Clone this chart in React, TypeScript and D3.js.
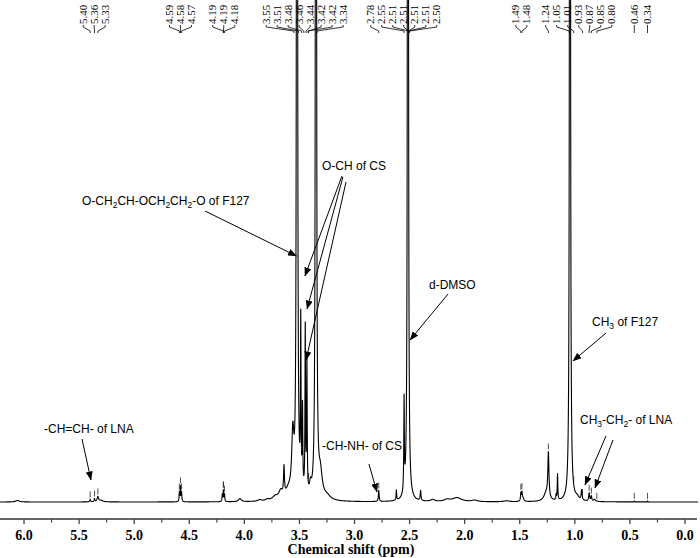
import React, { useMemo } from "react";
import * as d3 from "d3";

// ---- Spectrum peak list: shift (ppm), intensity (arb.), half width (ppm)
const peakPpm = [6.06, 5.4, 5.36, 5.33, 5.3, 4.59, 4.58, 4.57, 4.2, 4.19, 4.18, 4.04, 3.86, 3.79, 3.72, 3.67, 3.64, 3.6, 3.56, 3.522, 3.488, 3.472, 3.447, 3.432, 3.4, 3.35, 3.31, 3.25, 2.78, 2.62, 2.55, 2.515, 2.4, 2.29, 2.16, 2.07, 1.91, 1.62, 1.49, 1.48, 1.47, 1.26, 1.24, 1.17, 1.157, 1.044, 0.98, 0.938, 0.87, 0.85, 0.82, 0.46, 0.34];
const peakHeight = [1.5, 2.5, 3, 5, 1.5, 9, 15, 9, 7, 11, 7, 3, 1.5, 1.5, 4, 8, 28, 8, 60, 4000, 165, 80, 165, 130, 10, 4000, 24, 4, 11, 10, 92, 4000, 10, 2, 2, 4, 1.5, 1, 8, 8, 3, 8, 45, 5, 26, 4000, 3, 10, 8, 5, 2, 1, 1];
const peakWidth = [0.02, 0.004, 0.004, 0.008, 0.02, 0.003, 0.003, 0.003, 0.003, 0.003, 0.003, 0.015, 0.02, 0.02, 0.03, 0.02, 0.005, 0.03, 0.012, 0.0024, 0.003, 0.003, 0.003, 0.003, 0.01, 0.0024, 0.02, 0.04, 0.004, 0.003, 0.003, 0.0022, 0.004, 0.02, 0.03, 0.05, 0.03, 0.03, 0.004, 0.004, 0.01, 0.025, 0.006, 0.003, 0.003, 0.0022, 0.02, 0.005, 0.005, 0.005, 0.01, 0.001, 0.001];

// ---- Picked peak labels (ppm)
const labelPpm = [5.40, 5.36, 5.33, 4.59, 4.58, 4.57, 4.19, 4.19, 4.18, 3.55, 3.51, 3.48, 3.46, 3.44, 3.42, 3.42, 3.34, 2.78, 2.55, 2.51, 2.51, 2.51, 2.51, 2.50, 1.49, 1.48, 1.24, 1.05, 1.01, 0.93, 0.87, 0.85, 0.80, 0.46, 0.34];

// ---- Axis ticks
const xTickValues = [6.0, 5.5, 5.0, 4.5, 4.0, 3.5, 3.0, 2.5, 2.0, 1.5, 1.0, 0.5, 0.0];
const xTickLabels = ["6.0", "5.5", "5.0", "4.5", "4.0", "3.5", "3.0", "2.5", "2.0", "1.5", "1.0", "0.5", "0.0"];
const xMinorTickValues = [5.75, 5.25, 4.75, 4.25, 3.75, 3.25, 2.75, 2.25, 1.75, 1.25, 0.75, 0.25];
const xAxisTitle = "Chemical shift (ppm)";

// ---- Assignment annotations: text parts [text, subscript], text anchor and arrows in (ppm, intensity)
type Part = [string, boolean];
const annotations: { parts: Part[]; at: [number, number]; arrows: [[number, number], [number, number]][] }[] = [
  {
    parts: [["O-CH", false], ["2", true], ["CH-OCH", false], ["2", true], ["CH", false], ["2", true], ["-O of F127", false]],
    at: [5.474, 297],
    arrows: [[[4.357, 291], [3.527, 246]]],
  },
  {
    parts: [["O-CH of CS", false]],
    at: [3.295, 332],
    arrows: [
      [[3.114, 326], [3.45, 226]],
      [[3.105, 325], [3.431, 193]],
      [[3.077, 320], [3.44, 142]],
    ],
  },
  { parts: [["d-DMSO", false]], at: [2.324, 213], arrows: [[[2.151, 208], [2.496, 162]]] },
  { parts: [["CH", false], ["3", true], [" of F127", false]], at: [0.844, 176], arrows: [[[0.717, 169], [1.017, 141]]] },
  { parts: [["-CH=CH- of LNA", false]], at: [5.819, 69], arrows: [[[5.474, 63], [5.392, 22]]] },
  { parts: [["-CH-NH- of CS", false]], at: [3.295, 52], arrows: [[[2.869, 38], [2.796, 10]]] },
  {
    parts: [["CH", false], ["3", true], ["-CH", false], ["2", true], ["- of LNA", false]],
    at: [0.953, 78],
    arrows: [
      [[0.717, 66], [0.908, 17]],
      [[0.654, 62], [0.817, 14]],
    ],
  },
];

const SERIF = "'Liberation Serif', 'Times New Roman', serif";
const SANS = "'Liberation Sans', Arial, sans-serif";

function spectrumAt(p: number): number {
  let s = 0;
  for (let k = 0; k < peakPpm.length; k++) {
    const d = (p - peakPpm[k]) / peakWidth[k];
    s += peakHeight[k] / (1 + d * d);
  }
  return s;
}

function spreadLabels(ideal: number[], gap: number): number[] {
  const clusters: { n: number; sum: number }[] = [];
  const left = (c: { n: number; sum: number }) => c.sum / c.n - ((c.n - 1) * gap) / 2;
  ideal.forEach((v) => {
    clusters.push({ n: 1, sum: v });
    while (clusters.length > 1) {
      const b = clusters[clusters.length - 1];
      const a = clusters[clusters.length - 2];
      if (left(a) + a.n * gap > left(b)) {
        a.n += b.n;
        a.sum += b.sum;
        clusters.pop();
      } else break;
    }
  });
  const out: number[] = [];
  clusters.forEach((c) => {
    const l = left(c);
    for (let k = 0; k < c.n; k++) out.push(l + k * gap);
  });
  return out;
}

export default function App() {
  const W = 700;
  const H = 558;
  const x = d3.scaleLinear().domain([6.2, -0.1]).range([2, 696]);
  const y = d3.scaleLinear().domain([0, 500]).range([502, 2]);
  const axisY = 519;

  const pathD = useMemo(() => {
    const pts: [number, number][] = d3.range(6.22, -0.12, -0.0004).map((p) => [p, spectrumAt(p)]);
    return d3
      .line<[number, number]>()
      .x((d) => x(d[0]))
      .y((d) => Math.max(-50, y(d[1])))(pts) as string;
  }, []);

  const idealX = labelPpm.map((p) => x(p));
  const labelX = spreadLabels(idealX, 11);

  return (
    <div style={{ position: "absolute", left: 0, top: 0 }}>
      <svg width={W} height={H} viewBox={`0 0 ${W} ${H}`} style={{ display: "block", background: "#fff" }}>
        <defs>
          <marker id="ah" markerUnits="userSpaceOnUse" markerWidth={9} markerHeight={7} refX={8.5} refY={3.5} orient="auto">
            <path d="M0,0 L9,3.5 L0,7 z" fill="#000" />
          </marker>
        </defs>
        <rect x={0} y={0} width={W} height={H} fill="#fff" />

        {/* spectrum */}
        <path d={pathD} fill="none" stroke="#000" strokeWidth={1.1} strokeLinejoin="round" />

        {/* peak pick marks */}
        {labelPpm.map((p, i) => {
          const s = spectrumAt(p);
          if (s > 60) return null;
          const yy = y(s);
          return <line key={"pm" + i} x1={x(p)} x2={x(p)} y1={yy - 2} y2={yy - 8} stroke="#222" strokeWidth={0.8} />;
        })}

        {/* peak labels */}
        {labelPpm.map((p, i) => {
          const lx = labelX[i];
          const px = x(p);
          return (
            <g key={"lb" + i}>
              <text
                transform={`translate(${lx + 3.6},24) rotate(-90)`}
                fontFamily={SERIF}
                fontSize={11}
                textAnchor="start"
                fill="#000"
              >
                {p.toFixed(2)}
              </text>
              <polyline
                points={`${lx},25 ${lx},27 ${px},31 ${px},33`}
                fill="none"
                stroke="#000"
                strokeWidth={0.8}
              />
            </g>
          );
        })}

        {/* annotations */}
        {annotations.map((a, i) => (
          <g key={"an" + i}>
            <text x={x(a.at[0])} y={y(a.at[1])} fontFamily={SANS} fontSize={12} fill="#000">
              {a.parts.map((pt, j) => {
                const prevSub = j > 0 && a.parts[j - 1][1];
                const dy = pt[1] ? 3 : prevSub ? -3 : 0;
                return (
                  <tspan key={j} fontSize={pt[1] ? 8.5 : 12} dy={dy}>
                    {pt[0]}
                  </tspan>
                );
              })}
            </text>
            {a.arrows.map((ar, k) => (
              <line
                key={k}
                x1={x(ar[0][0])}
                y1={y(ar[0][1])}
                x2={x(ar[1][0])}
                y2={y(ar[1][1])}
                stroke="#000"
                strokeWidth={1}
                markerEnd="url(#ah)"
              />
            ))}
          </g>
        ))}

        {/* x axis */}
        <line x1={0} x2={697} y1={axisY} y2={axisY} stroke="#666" strokeWidth={2} />
        {xTickValues.map((v, i) => (
          <g key={"t" + i}>
            <line x1={x(v)} x2={x(v)} y1={axisY} y2={axisY + 5} stroke="#444" strokeWidth={1.3} />
            <text x={x(v)} y={540} textAnchor="middle" fontFamily={SERIF} fontWeight="bold" fontSize={14} fill="#000">
              {xTickLabels[i]}
            </text>
          </g>
        ))}
        {xMinorTickValues.map((v, i) => (
          <line key={"mt" + i} x1={x(v)} x2={x(v)} y1={axisY} y2={axisY + 3.5} stroke="#444" strokeWidth={1.2} />
        ))}
        <text x={351} y={554} textAnchor="middle" fontFamily={SERIF} fontWeight="bold" fontSize={14} fill="#000">
          {xAxisTitle}
        </text>
      </svg>
    </div>
  );
}
